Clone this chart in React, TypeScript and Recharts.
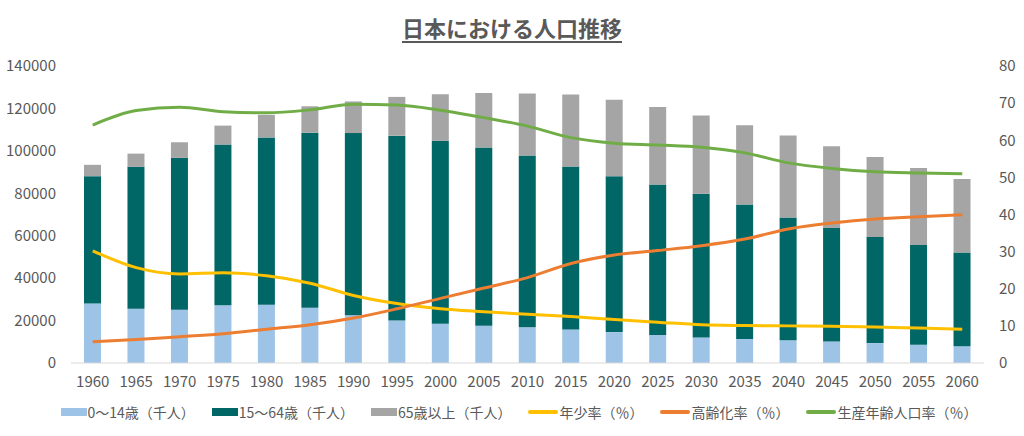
import React from "react";
import {
  ComposedChart,
  Bar,
  Line,
  XAxis,
  YAxis,
  Legend,
} from "recharts";

const years = [
  "1960", "1965", "1970", "1975", "1980", "1985", "1990", "1995", "2000", "2005",
  "2010", "2015", "2020", "2025", "2030", "2035", "2040", "2045", "2050", "2055", "2060",
];

// population in thousands
const young = [
  28067, 25529, 25153, 27221, 27507, 26033, 22486, 20014, 18472, 17521,
  16803, 15827, 14568, 13240, 12039, 11287, 10732, 10116, 9387, 8614, 7912,
];
const working = [
  60002, 66928, 71566, 75807, 78835, 82506, 85904, 87165, 86220, 84092,
  81032, 76818, 73408, 70845, 67730, 63430, 57866, 53531, 50013, 47063, 44183,
];
const elderly = [
  5350, 6236, 7331, 8865, 10647, 12468, 14895, 18261, 22005, 25672,
  29246, 33952, 36124, 36573, 36849, 37407, 38678, 38564, 37676, 36257, 34642,
];

// ratios in percent
const youngRate = [
  30.2, 25.7, 24.0, 24.3, 23.5, 21.5, 18.2, 16.0, 14.6, 13.8,
  13.1, 12.5, 11.7, 11.0, 10.3, 10.1, 10.0, 9.9, 9.7, 9.4, 9.1,
];
const agingRate = [
  5.7, 6.3, 7.1, 7.9, 9.1, 10.3, 12.1, 14.6, 17.4, 20.2,
  23.0, 26.8, 29.1, 30.3, 31.6, 33.4, 36.1, 37.7, 38.8, 39.4, 39.9,
];
const workingRate = [
  64.1, 68.0, 68.9, 67.7, 67.4, 68.2, 69.7, 69.5, 68.1, 66.1,
  63.8, 60.7, 59.2, 58.7, 58.1, 56.6, 53.9, 52.4, 51.5, 51.2, 51.0,
];

const seriesNames = [
  "0～14歳（千人）",
  "15～64歳（千人）",
  "65歳以上（千人）",
  "年少率（％）",
  "高齢化率（％）",
  "生産年齢人口率（％）",
];

const leftTicks = [0, 20000, 40000, 60000, 80000, 100000, 120000, 140000];
const rightTicks = [0, 10, 20, 30, 40, 50, 60, 70, 80];

const data = years.map((year, i) => ({
  year,
  young: young[i],
  working: working[i],
  elderly: elderly[i],
  youngRate: youngRate[i],
  agingRate: agingRate[i],
  workingRate: workingRate[i],
}));

const FONT = "'Liberation Sans Narrow', 'Noto Sans CJK JP', sans-serif";
const TEXT = "#595959";

function LegendBox({ payload }: any) {
  // keep the series order instead of the default alphabetical one
  const items = [...(payload || [])].sort(
    (a: any, b: any) => seriesNames.indexOf(a.value) - seriesNames.indexOf(b.value)
  );
  return (
    <div
      style={{
        display: "flex",
        justifyContent: "center",
        alignItems: "center",
        gap: 17,
        paddingTop: 9,
        paddingLeft: 14,
        fontFamily: FONT,
        fontSize: 14,
        color: TEXT,
      }}
    >
      {items.map((p: any) => (
        <div key={p.value} style={{ display: "flex", alignItems: "center" }}>
          {p.type === "line" ? (
            <span
              style={{
                display: "inline-block",
                width: 30,
                height: 4,
                borderRadius: 2,
                background: p.color,
                marginRight: 1,
              }}
            />
          ) : (
            <span
              style={{
                display: "inline-block",
                width: 26,
                height: 8,
                background: p.color,
                marginRight: 1,
              }}
            />
          )}
          <span>{p.value}</span>
        </div>
      ))}
    </div>
  );
}

export default function App() {
  return (
    <div
      style={{
        position: "absolute",
        left: 0,
        top: 0,
        width: 1024,
        height: 436,
        background: "#fff",
      }}
    >
      <div
        style={{
          position: "absolute",
          top: 11,
          left: 0,
          width: 1024,
          textAlign: "center",
          fontFamily: "'Noto Sans CJK JP', sans-serif",
          fontWeight: 700,
          fontSize: 22,
          color: TEXT,
          textDecoration: "underline",
          textUnderlineOffset: 4,
        }}
      >
        日本における人口推移
      </div>
      <ComposedChart
        width={1024}
        height={436}
        data={data}
        margin={{ top: 66, right: 0, bottom: 3, left: 0 }}
        barSize={17}
      >
        <XAxis
          dataKey="year"
          height={30}
          axisLine={{ stroke: "#d9d9d9" }}
          tickLine={false}
          tickMargin={7}
          tick={{ fill: TEXT, fontSize: 15, fontFamily: FONT }}
          interval={0}
        />
        <YAxis
          yAxisId="left"
          width={71}
          domain={[0, 140000]}
          ticks={leftTicks}
          axisLine={false}
          tickLine={false}
          tickMargin={9}
          tick={{ fill: TEXT, fontSize: 15, fontFamily: FONT }}
        />
        <YAxis
          yAxisId="right"
          orientation="right"
          width={40}
          domain={[0, 80]}
          ticks={rightTicks}
          axisLine={false}
          tickLine={false}
          tickMargin={9}
          tick={{ fill: TEXT, fontSize: 15, fontFamily: FONT }}
        />
        <Legend
          verticalAlign="bottom"
          height={40}
          content={<LegendBox />}
        />
        <Bar
          yAxisId="left"
          dataKey="young"
          name={seriesNames[0]}
          stackId="pop"
          fill="#9dc3e6"
          legendType="rect"
          isAnimationActive={false}
        />
        <Bar
          yAxisId="left"
          dataKey="working"
          name={seriesNames[1]}
          stackId="pop"
          fill="#006666"
          legendType="rect"
          isAnimationActive={false}
        />
        <Bar
          yAxisId="left"
          dataKey="elderly"
          name={seriesNames[2]}
          stackId="pop"
          fill="#a5a5a5"
          legendType="rect"
          isAnimationActive={false}
        />
        <Line
          yAxisId="right"
          type="monotone"
          dataKey="youngRate"
          name={seriesNames[3]}
          stroke="#ffc000"
          strokeWidth={3}
          dot={false}
          legendType="line"
          isAnimationActive={false}
        />
        <Line
          yAxisId="right"
          type="monotone"
          dataKey="agingRate"
          name={seriesNames[4]}
          stroke="#ed7d31"
          strokeWidth={3}
          dot={false}
          legendType="line"
          isAnimationActive={false}
        />
        <Line
          yAxisId="right"
          type="monotone"
          dataKey="workingRate"
          name={seriesNames[5]}
          stroke="#70ad47"
          strokeWidth={3}
          dot={false}
          legendType="line"
          isAnimationActive={false}
        />
      </ComposedChart>
    </div>
  );
}
